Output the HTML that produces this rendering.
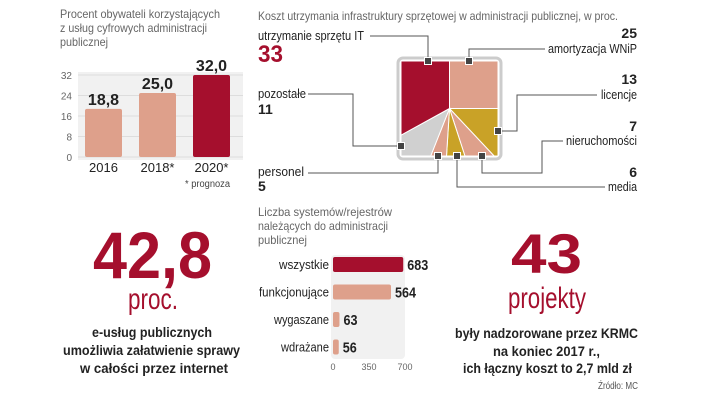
<!DOCTYPE html>
<html><head><meta charset="utf-8"><style>
body{margin:0;background:#fff}
svg{display:block;font-family:"Liberation Sans",sans-serif}
.t{fill:#666;font-size:12px}
.b{fill:#222;font-weight:bold}
.r{fill:#a50f2d}
</style></head><body>
<svg id="s" width="720" height="406" viewBox="0 0 720 406">
<g>
<text class="t" x="60" y="18" textLength="160" lengthAdjust="spacingAndGlyphs">Procent obywateli korzystających</text>
<text class="t" x="60" y="32" textLength="147" lengthAdjust="spacingAndGlyphs">z usług cyfrowych administracji</text>
<text class="t" x="60" y="46" textLength="48" lengthAdjust="spacingAndGlyphs">publicznej</text>
</g>
<rect x="78" y="72" width="165" height="88" fill="#f1f1f1"/>
<g id="colchart"></g>
<text x="230" y="187" text-anchor="end" style="font-size:10px;fill:#444" textLength="45" lengthAdjust="spacingAndGlyphs">* prognoza</text>

<text class="t" x="258" y="20" textLength="360" lengthAdjust="spacingAndGlyphs">Koszt utrzymania infrastruktury sprzętowej w administracji publicznej, w proc.</text>
<rect x="398" y="58" width="103" height="101" rx="5" fill="#fff" stroke="#ccc" stroke-width="3"/>
<g id="pie"></g>
<g id="callouts" fill="none" stroke="#555" stroke-width="1"></g>
<g style="font-size:13px">
<text x="258" y="40" fill="#222" textLength="106" lengthAdjust="spacingAndGlyphs">utrzymanie sprzętu IT</text>
<text x="258" y="62" class="r" style="font-size:24px;font-weight:bold" textLength="25" lengthAdjust="spacingAndGlyphs">33</text>
<text x="258" y="98" fill="#222" textLength="48" lengthAdjust="spacingAndGlyphs">pozostałe</text>
<text x="258" y="114" class="b" style="font-size:14px">11</text>
<text x="258" y="176" fill="#222" textLength="46" lengthAdjust="spacingAndGlyphs">personel</text>
<text x="258" y="191" class="b" style="font-size:14px">5</text>
<text x="637" y="38" text-anchor="end" class="b" style="font-size:14px">25</text>
<text x="548" y="53" fill="#222" textLength="89" lengthAdjust="spacingAndGlyphs">amortyzacja WNiP</text>
<text x="637" y="84" text-anchor="end" class="b" style="font-size:14px">13</text>
<text x="601" y="99" fill="#222" textLength="36" lengthAdjust="spacingAndGlyphs">licencje</text>
<text x="637" y="131" text-anchor="end" class="b" style="font-size:14px">7</text>
<text x="566" y="145" fill="#222" textLength="71" lengthAdjust="spacingAndGlyphs">nieruchomości</text>
<text x="637" y="177" text-anchor="end" class="b" style="font-size:14px">6</text>
<text x="608" y="191" fill="#222" textLength="29" lengthAdjust="spacingAndGlyphs">media</text>
</g>

<g>
<text class="t" x="258" y="216" textLength="134" lengthAdjust="spacingAndGlyphs">Liczba systemów/rejestrów</text>
<text class="t" x="258" y="230" textLength="130" lengthAdjust="spacingAndGlyphs">należących do administracji</text>
<text class="t" x="258" y="244" textLength="49" lengthAdjust="spacingAndGlyphs">publicznej</text>
</g>
<rect x="331" y="255" width="74" height="104" rx="4" fill="#f1f1f1"/>
<g id="barchart"></g>

<g>
<text x="93" y="278" class="r" style="font-size:66px;font-weight:bold" textLength="119" lengthAdjust="spacingAndGlyphs">42,8</text>
<text x="128" y="309" class="r" style="font-size:30px" textLength="50" lengthAdjust="spacingAndGlyphs">proc.</text>
<text x="92" y="337" class="b" style="font-size:14px" textLength="120" lengthAdjust="spacingAndGlyphs">e-usług publicznych</text>
<text x="63" y="355" class="b" style="font-size:14px" textLength="177" lengthAdjust="spacingAndGlyphs">umożliwia załatwienie sprawy</text>
<text x="80" y="373" class="b" style="font-size:14px" textLength="148" lengthAdjust="spacingAndGlyphs">w całości przez internet</text>
</g>
<g>
<text x="511" y="273" class="r" style="font-size:56px;font-weight:bold" textLength="71" lengthAdjust="spacingAndGlyphs">43</text>
<text x="508" y="308" class="r" style="font-size:30px" textLength="78" lengthAdjust="spacingAndGlyphs">projekty</text>
<text x="455" y="338" class="b" style="font-size:14px" textLength="183" lengthAdjust="spacingAndGlyphs">były nadzorowane przez KRMC</text>
<text x="493" y="356" class="b" style="font-size:14px" textLength="107" lengthAdjust="spacingAndGlyphs">na koniec 2017 r.,</text>
<text x="463" y="373" class="b" style="font-size:14px" textLength="169" lengthAdjust="spacingAndGlyphs">ich łączny koszt to 2,7 mld zł</text>
<text x="598" y="389" style="font-size:10px;fill:#555" textLength="40" lengthAdjust="spacingAndGlyphs">Źródło: MC</text>
</g>
</svg>
<script>
const NS="http://www.w3.org/2000/svg";
function mk(p,tag,a,txt){const e=document.createElementNS(NS,tag);for(const k in a)e.setAttribute(k,a[k]);if(txt!=null)e.textContent=txt;p.appendChild(e);return e;}

// Column chart
const colCats=["2016","2018*","2020*"];
const colVals=[18.8,25.0,32.0];
const colLabels=["18,8","25,0","32,0"];
const colTicks=[0,8,16,24,32];
const cy=v=>157-v*(82/32);
const cx=i=>85+i*54;
const cg=document.getElementById('colchart');
colTicks.forEach(t=>{
 const l=mk(cg,'line',{x1:78,x2:243,y1:cy(t),y2:cy(t),stroke:'#ddd'});
 
 
 const tx=mk(cg,'text',{x:72,y:cy(t)+4,'text-anchor':'end',fill:'#666','font-size':'10'},String(t));
 
 
});
colVals.forEach((v,i)=>{
 const r=mk(cg,'rect',{x:cx(i),y:cy(v),width:37,height:157-cy(v),rx:2,fill:i==2?'#a50f2d':'#dea08b'});
 
 
 const vt=mk(cg,'text',{x:cx(i)+18.5,y:cy(v)-4,'text-anchor':'middle',fill:'#222','font-weight':'bold','font-size':'16'},colLabels[i]);
 
 
 const ct=mk(cg,'text',{x:cx(i)+18.5,y:172,'text-anchor':'middle',fill:'#222','font-size':'13'},colCats[i]);
 
 
});

// Square pie
const pieCats=["amortyzacja WNiP","licencje","nieruchomości","media","personel","pozostałe","utrzymanie sprzętu IT"];
const pieVals=[25,13,7,6,5,11,33];
const pieColors=["#dea08b","#c9a227","#dea08b","#c9a227","#dea08b","#d0d0d0","#a50f2d"];
const L=401,R=498,T=61,B=156,CX=(L+R)/2,CY=(T+B)/2,hw=(R-L)/2,hh=(B-T)/2;
function edge(f){const a=f*2*Math.PI;const dx=Math.sin(a),dy=-Math.cos(a);
 const s=Math.min(Math.abs(dx)>1e-9?hw/Math.abs(dx):1e9,Math.abs(dy)>1e-9?hh/Math.abs(dy):1e9);
 return [CX+dx*s,CY+dy*s];}
const cornerF=[Math.atan2(hw,hh),Math.PI-Math.atan2(hw,hh),Math.PI+Math.atan2(hw,hh),2*Math.PI-Math.atan2(hw,hh)].map(a=>a/(2*Math.PI));
const pg=document.getElementById('pie');
const total=pieVals.reduce((a,b)=>a+b,0);
let acc=0;
pieVals.forEach((v,i)=>{
 const f0=acc/total,f1=(acc+v)/total;acc+=v;
 const pts=[[CX,CY],edge(f0)];
 cornerF.forEach(c=>{if(c>f0&&c<f1)pts.push(edge(c));});
 pts.push(edge(f1));
 const p=mk(pg,'polygon',{points:pts.map(q=>q.join(',')).join(' '),fill:pieColors[i],stroke:'#fff','stroke-width':1});
 
 
});

// callouts
const cl=document.getElementById('callouts');
const lines=[
 "428,61 428,36 370,36","469,61 469,49 545,49","498,131 517,131 517,95 597,95",
 "482,156 482,173 542,173 542,141 563,141","457,156 457,187 605,187","438,156 438,173 308,173","401,146 353,146 353,94 308,94"];
lines.forEach(pts=>{const pl=mk(cl,'polyline',{points:pts});
 
 
 const f=pts.split(' ')[0].split(',');
 const m=mk(cl,'rect',{x:f[0]-3.5,y:f[1]-3.5,width:7,height:7,fill:'#444',stroke:'#fff','stroke-width':1});
 
 
});

// horizontal bars
const barCats=["wszystkie","funkcjonujące","wygaszane","wdrażane"];
const barVals=[683,564,63,56];
const barTicks=[0,350,700];
const catW=[50,70,55,48];
const bx=v=>333+v*(72/700);
const by=i=>257+i*27.5;
const bg=document.getElementById('barchart');
barVals.forEach((v,i)=>{
 const r=mk(bg,'rect',{x:333,y:by(i),width:bx(v)-333,height:15,rx:2,fill:i==0?'#a50f2d':'#dea08b'});
 
 
 const lt=mk(bg,'text',{x:329-catW[i],y:by(i)+12,fill:'#222','font-size':'13',textLength:catW[i],lengthAdjust:'spacingAndGlyphs'},barCats[i]);
 
 
 const s=String(v);
 const vt=mk(bg,'text',{x:bx(v)+4,y:by(i)+13,fill:'#222','font-weight':'bold','font-size':'15',textLength:s.length*7,lengthAdjust:'spacingAndGlyphs'},s);
 
 
});
barTicks.forEach(t=>{const tx=mk(bg,'text',{x:bx(t),y:370,'text-anchor':'middle',fill:'#666','font-size':'9'},String(t));
 
 });
</script>
</body></html>
